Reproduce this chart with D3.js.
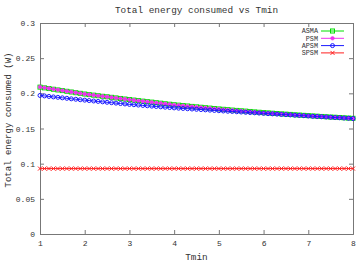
<!DOCTYPE html>
<html>
<head>
<meta charset="utf-8">
<script src="https://cdn.jsdelivr.net/npm/d3@7/dist/d3.min.js"></script>
<style>
  body { margin: 0; background: #fff; }
  svg { display: block; }
</style>
</head>
<body>
<svg id="chart" width="364" height="263"></svg>
<script>
// x values (Tmin)
const tmin = [1.0,1.1,1.2,1.3,1.4,1.5,1.6,1.7,1.8,1.9,
  2.0,2.1,2.2,2.3,2.4,2.5,2.6,2.7,2.8,2.9,
  3.0,3.1,3.2,3.3,3.4,3.5,3.6,3.7,3.8,3.9,
  4.0,4.1,4.2,4.3,4.4,4.5,4.6,4.7,4.8,4.9,
  5.0,5.1,5.2,5.3,5.4,5.5,5.6,5.7,5.8,5.9,
  6.0,6.1,6.2,6.3,6.4,6.5,6.6,6.7,6.8,6.9,
  7.0,7.1,7.2,7.3,7.4,7.5,7.6,7.7,7.8,7.9,8.0];

const psm = [0.2090,0.2080,0.2070,0.2060,0.2050,0.2040,0.2030,0.2020,0.2010,0.2000,
  0.1990,0.1982,0.1974,0.1966,0.1958,0.1950,0.1942,0.1934,0.1926,0.1918,
  0.1910,0.1903,0.1895,0.1888,0.1880,0.1873,0.1865,0.1858,0.1850,0.1843,
  0.1835,0.1829,0.1823,0.1817,0.1811,0.1805,0.1799,0.1793,0.1787,0.1781,
  0.1775,0.1770,0.1765,0.1759,0.1754,0.1749,0.1744,0.1739,0.1733,0.1728,
  0.1723,0.1719,0.1714,0.1710,0.1706,0.1701,0.1697,0.1693,0.1689,0.1684,
  0.1680,0.1676,0.1673,0.1669,0.1665,0.1661,0.1658,0.1654,0.1650,0.1647,0.1643];

const asma = [0.2088,0.2078,0.2068,0.2058,0.2048,0.2039,0.2029,0.2019,0.2009,0.2000,
  0.1990,0.1982,0.1974,0.1966,0.1958,0.1951,0.1943,0.1935,0.1927,0.1919,
  0.1912,0.1904,0.1897,0.1889,0.1882,0.1875,0.1867,0.1860,0.1852,0.1845,
  0.1838,0.1832,0.1826,0.1820,0.1814,0.1808,0.1802,0.1796,0.1790,0.1784,
  0.1778,0.1773,0.1768,0.1762,0.1757,0.1752,0.1747,0.1742,0.1736,0.1731,
  0.1726,0.1722,0.1717,0.1713,0.1708,0.1704,0.1700,0.1695,0.1691,0.1687,
  0.1683,0.1679,0.1675,0.1671,0.1667,0.1663,0.1660,0.1656,0.1652,0.1648,0.1645];

const apsm = [0.1970,0.1963,0.1956,0.1949,0.1943,0.1936,0.1929,0.1922,0.1916,0.1909,
  0.1903,0.1897,0.1891,0.1885,0.1879,0.1873,0.1867,0.1861,0.1855,0.1849,
  0.1843,0.1838,0.1833,0.1828,0.1823,0.1818,0.1813,0.1808,0.1803,0.1798,
  0.1793,0.1789,0.1785,0.1781,0.1777,0.1773,0.1769,0.1765,0.1761,0.1757,
  0.1753,0.1749,0.1745,0.1742,0.1738,0.1734,0.1730,0.1726,0.1723,0.1719,
  0.1715,0.1711,0.1708,0.1704,0.1700,0.1697,0.1693,0.1689,0.1686,0.1682,
  0.1678,0.1674,0.1671,0.1667,0.1664,0.1660,0.1656,0.1653,0.1649,0.1646,0.1642];

const spsm = [0.093,0.093,0.093,0.093,0.093,0.093,0.093,0.093,0.093,0.093,
  0.093,0.093,0.093,0.093,0.093,0.093,0.093,0.093,0.093,0.093,
  0.093,0.093,0.093,0.093,0.093,0.093,0.093,0.093,0.093,0.093,
  0.093,0.093,0.093,0.093,0.093,0.093,0.093,0.093,0.093,0.093,
  0.093,0.093,0.093,0.093,0.093,0.093,0.093,0.093,0.093,0.093,
  0.093,0.093,0.093,0.093,0.093,0.093,0.093,0.093,0.093,0.093,
  0.093,0.093,0.093,0.093,0.093,0.093,0.093,0.093,0.093,0.093,0.093];

const seriesNames = ["ASMA", "PSM", "APSM", "SPSM"];
const xTicks = [1, 2, 3, 4, 5, 6, 7, 8];
const yTicks = [0, 0.05, 0.1, 0.15, 0.2, 0.25, 0.3];
const yTickLabels = ["0", "0.05", "0.1", "0.15", "0.2", "0.25", "0.3"];

const series = [
    { name: "ASMA", values: asma, color: "#00e000", marker: "square" },
    { name: "PSM", values: psm, color: "#ee33ee", marker: "dot" },
    { name: "APSM", values: apsm, color: "#1a1aff", marker: "circle" },
    { name: "SPSM", values: spsm, color: "#ff2020", marker: "cross" }
];

const svg = d3.select("#chart");
const font = "'Liberation Mono', monospace";
const textColor = "#333";
const frameColor = "#777";

const margin = { left: 40, right: 11, top: 23, bottom: 29 };
const width = 364, height = 263;

const x = d3.scaleLinear().domain([1, 8]).range([margin.left, width - margin.right]);
const y = d3.scaleLinear().domain([0, 0.3]).range([height - margin.bottom, margin.top]);

//title
svg.append("text")
    .attr("x", (x(1) + x(8)) / 2)
    .attr("y", 13)
    .attr("text-anchor", "middle")
    .attr("font-family", font)
    .attr("font-size", "9.4px")
    .attr("fill", textColor)
    .text("Total energy consumed vs Tmin");

//axes with inward ticks, mirrored
const tickLen = 4;
const axisBottom = svg.append("g")
    .attr("transform", "translate(0," + y(0) + ")")
    .call(d3.axisBottom(x).tickValues(xTicks).tickSize(-tickLen).tickPadding(6).tickFormat(d3.format("d")));
const axisLeft = svg.append("g")
    .attr("transform", "translate(" + x(1) + ",0)")
    .call(d3.axisLeft(y).tickValues(yTicks).tickSize(-tickLen).tickPadding(5).tickFormat((d, i) => yTickLabels[i]));
const axisTop = svg.append("g")
    .attr("transform", "translate(0," + y(0.3) + ")")
    .call(d3.axisTop(x).tickValues(xTicks).tickSize(-tickLen).tickFormat(""));
const axisRight = svg.append("g")
    .attr("transform", "translate(" + x(8) + ",0)")
    .call(d3.axisRight(y).tickValues(yTicks).tickSize(-tickLen).tickFormat(""));

[axisBottom, axisLeft, axisTop, axisRight].forEach(a => {
    a.select(".domain").attr("stroke", frameColor);
    a.selectAll(".tick line").attr("stroke", frameColor);
    a.selectAll("text")
        .attr("font-family", font)
        .attr("font-size", "8px")
        .attr("fill", textColor);
});

//axis labels
svg.append("text")
    .attr("x", (x(1) + x(8)) / 2)
    .attr("y", 260)
    .attr("text-anchor", "middle")
    .attr("font-family", font)
    .attr("font-size", "9.4px")
    .attr("fill", textColor)
    .text("Tmin");

svg.append("text")
    .attr("transform", "translate(11,120) rotate(-90)")
    .attr("text-anchor", "middle")
    .attr("font-family", font)
    .attr("font-size", "9px")
    .attr("fill", textColor)
    .text("Total energy consumed (W)");

//markers
function drawMarker(g, type, cx, cy, color, r) {
    if (type === "square") {
        g.append("rect").attr("x", cx - r).attr("y", cy - r)
            .attr("width", 2 * r).attr("height", 2 * r)
            .attr("fill", "none").attr("stroke", color).attr("stroke-width", 1);
    } else if (type === "dot") {
        g.append("circle").attr("cx", cx).attr("cy", cy).attr("r", r * 0.9)
            .attr("fill", color).attr("stroke", color).attr("stroke-width", 0.6);
    } else if (type === "circle") {
        g.append("circle").attr("cx", cx).attr("cy", cy).attr("r", r)
            .attr("fill", "none").attr("stroke", color).attr("stroke-width", 1);
    } else {
        g.append("path")
            .attr("d", "M" + (cx - r) + "," + (cy - r) + "L" + (cx + r) + "," + (cy + r) +
                "M" + (cx - r) + "," + (cy + r) + "L" + (cx + r) + "," + (cy - r))
            .attr("stroke", color).attr("stroke-width", 1);
    }
}

//lines
const line = d3.line().x((d, i) => x(tmin[i])).y(d => y(d));
const plot = svg.append("g");
series.forEach(s => {
    const g = plot.append("g");
    g.append("path")
        .attr("d", line(s.values))
        .attr("fill", "none")
        .attr("stroke", s.color)
        .attr("stroke-width", 1);
    s.values.forEach((v, i) => drawMarker(g, s.marker, x(tmin[i]), y(v), s.color, 2));
});

//legend
const legend = svg.append("g");
seriesNames.forEach((name, i) => {
    const s = series[i];
    const ly = 31 + i * 7.3;
    legend.append("text")
        .attr("x", 318)
        .attr("y", ly + 2.4)
        .attr("text-anchor", "end")
        .attr("font-family", font)
        .attr("font-size", "6.8px")
        .attr("fill", textColor)
        .text(name);
    legend.append("line")
        .attr("x1", 321).attr("x2", 344)
        .attr("y1", ly).attr("y2", ly)
        .attr("stroke", s.color).attr("stroke-width", 1);
    drawMarker(legend, s.marker, 332.5, ly, s.color, 2);
});
</script>
</body>
</html>
